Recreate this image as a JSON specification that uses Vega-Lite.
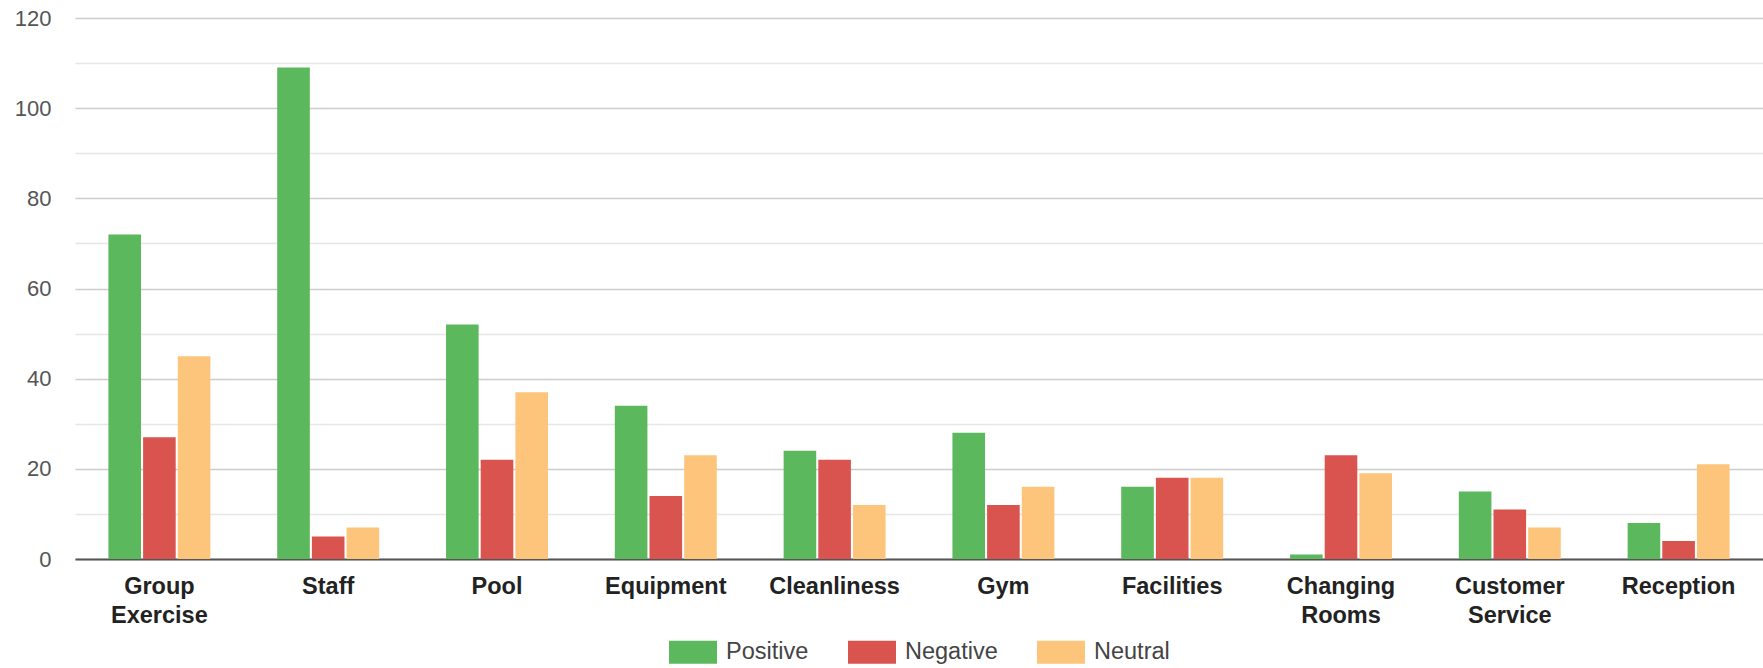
{
  "$schema": "https://vega.github.io/schema/vega-lite/v6.json",
  "width": 1688,
  "height": 541,
  "autosize": {"type": "none"},
  "padding": {"left": 75, "top": 18, "right": 0, "bottom": 109},
  "background": "white",
  "data": {
    "values": [
      {"category": "Group Exercise", "sentiment": "Positive", "count": 72},
      {"category": "Group Exercise", "sentiment": "Negative", "count": 27},
      {"category": "Group Exercise", "sentiment": "Neutral", "count": 45},
      {"category": "Staff", "sentiment": "Positive", "count": 109},
      {"category": "Staff", "sentiment": "Negative", "count": 5},
      {"category": "Staff", "sentiment": "Neutral", "count": 7},
      {"category": "Pool", "sentiment": "Positive", "count": 52},
      {"category": "Pool", "sentiment": "Negative", "count": 22},
      {"category": "Pool", "sentiment": "Neutral", "count": 37},
      {"category": "Equipment", "sentiment": "Positive", "count": 34},
      {"category": "Equipment", "sentiment": "Negative", "count": 14},
      {"category": "Equipment", "sentiment": "Neutral", "count": 23},
      {"category": "Cleanliness", "sentiment": "Positive", "count": 24},
      {"category": "Cleanliness", "sentiment": "Negative", "count": 22},
      {"category": "Cleanliness", "sentiment": "Neutral", "count": 12},
      {"category": "Gym", "sentiment": "Positive", "count": 28},
      {"category": "Gym", "sentiment": "Negative", "count": 12},
      {"category": "Gym", "sentiment": "Neutral", "count": 16},
      {"category": "Facilities", "sentiment": "Positive", "count": 16},
      {"category": "Facilities", "sentiment": "Negative", "count": 18},
      {"category": "Facilities", "sentiment": "Neutral", "count": 18},
      {"category": "Changing Rooms", "sentiment": "Positive", "count": 1},
      {"category": "Changing Rooms", "sentiment": "Negative", "count": 23},
      {"category": "Changing Rooms", "sentiment": "Neutral", "count": 19},
      {"category": "Customer Service", "sentiment": "Positive", "count": 15},
      {"category": "Customer Service", "sentiment": "Negative", "count": 11},
      {"category": "Customer Service", "sentiment": "Neutral", "count": 7},
      {"category": "Reception", "sentiment": "Positive", "count": 8},
      {"category": "Reception", "sentiment": "Negative", "count": 4},
      {"category": "Reception", "sentiment": "Neutral", "count": 21}
    ]
  },
  "mark": {"type": "bar"},
  "encoding": {
    "x": {
      "field": "category",
      "type": "nominal",
      "sort": null,
      "scale": {"paddingInner": 0.396, "paddingOuter": 0.198},
      "axis": {
        "title": null,
        "labelAngle": 0,
        "labelExpr": "split(datum.label, ' ')",
        "labelFont": "Liberation Sans",
        "labelFontWeight": "bold",
        "labelFontSize": 23.5,
        "labelColor": "#222222",
        "labelLineHeight": 29,
        "labelPadding": 15,
        "ticks": false,
        "grid": false,
        "domain": true,
        "domainColor": "#555555",
        "domainWidth": 2
      }
    },
    "xOffset": {
      "field": "sentiment",
      "type": "nominal",
      "sort": ["Positive", "Negative", "Neutral"],
      "scale": {"paddingInner": 0.06, "paddingOuter": 0}
    },
    "y": {
      "field": "count",
      "type": "quantitative",
      "scale": {"domain": [0, 120], "nice": false},
      "axis": {
        "title": null,
        "values": [0, 10, 20, 30, 40, 50, 60, 70, 80, 90, 100, 110, 120],
        "labelExpr": "datum.value % 20 == 0 ? datum.label : ''",
        "labelFont": "Liberation Sans",
        "labelFontSize": 22,
        "labelColor": "#555555",
        "labelPadding": 24,
        "ticks": false,
        "domain": false,
        "grid": true,
        "gridColor": {"condition": {"test": "datum.value % 20 == 0", "value": "#cccccc"}, "value": "#e6e6e6"},
        "gridWidth": 1.5
      }
    },
    "color": {
      "field": "sentiment",
      "type": "nominal",
      "sort": ["Positive", "Negative", "Neutral"],
      "scale": {"domain": ["Positive", "Negative", "Neutral"], "range": ["#5cb85c", "#d9534f", "#fdc57b"]},
      "legend": {
        "title": null,
        "orient": "none",
        "legendX": 594,
        "legendY": 610,
        "direction": "horizontal",
        "symbolType": "M-1,-0.48H1V0.48H-1Z",
        "symbolSize": 2304,
        "symbolStrokeWidth": 0,
        "symbolOpacity": 1,
        "labelFont": "Liberation Sans",
        "labelFontSize": 23.5,
        "labelColor": "#444444",
        "labelOffset": 9,
        "columnPadding": 39
      }
    }
  },
  "config": {"view": {"stroke": null}}
}
